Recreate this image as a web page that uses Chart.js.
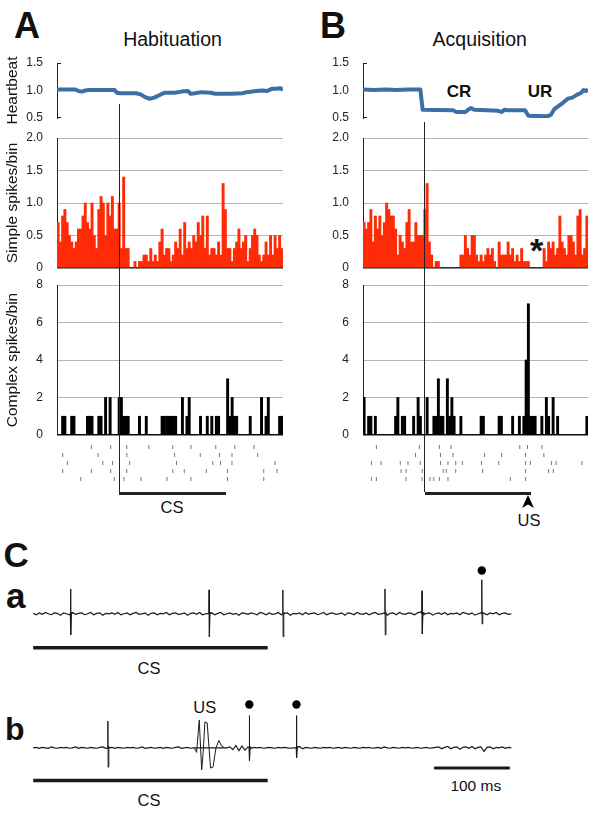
<!DOCTYPE html>
<html>
<head>
<meta charset="utf-8">
<script src="https://cdn.jsdelivr.net/npm/chart.js@4.4.0/dist/chart.umd.min.js"></script>
<style>
    html, body { margin: 0; padding: 0; background: #fff; }
    #fig { position: relative; width: 600px; height: 813px; overflow: hidden;
           font-family: "Liberation Sans", Arial, Helvetica, sans-serif; color: #111; }
    #fig canvas { position: absolute; }
    .lbl { position: absolute; white-space: nowrap; line-height: 1; }
    .ctr { transform: translateX(-50%); }
    .big { font-weight: bold; font-size: 36px; }
    .rule { position: absolute; background: #222; }
</style>
</head>
<body>
<div id="fig">
    <div class="lbl big" style="left:14px; top:8px;">A</div>
    <div class="lbl big" style="left:320px; top:8px;">B</div>
    <div class="lbl ctr" style="left:172.5px; top:30px; font-size:19.5px;">Habituation</div>
    <div class="lbl ctr" style="left:479.7px; top:30px; font-size:19.5px;">Acquisition</div>
    <div class="lbl ctr" style="left:459px; top:83px; font-size:17px; font-weight:bold;">CR</div>
    <div class="lbl ctr" style="left:540px; top:83px; font-size:17px; font-weight:bold;">UR</div>
    <div class="lbl ctr" style="left:536.7px; top:233px; font-size:34px; font-weight:bold;">*</div>
    <div class="lbl ctr" style="left:172px; top:498.5px; font-size:16.5px;">CS</div>
    <div class="lbl ctr" style="left:529px; top:512px; font-size:16.5px;">US</div>
    <div class="lbl" style="left:3.5px; top:537px; font-size:35px; font-weight:bold;">C</div>
    <div class="lbl" style="left:6px; top:577.5px; font-size:35px; font-weight:bold;">a</div>
    <div class="lbl" style="left:5px; top:713px; font-size:32px; font-weight:bold;">b</div>
    <div class="lbl ctr" style="left:149px; top:659.5px; font-size:16.5px;">CS</div>
    <div class="lbl ctr" style="left:149px; top:792px; font-size:16.5px;">CS</div>
    <div class="lbl ctr" style="left:204.7px; top:699.4px; font-size:16.5px;">US</div>
    <div class="lbl ctr" style="left:475.8px; top:778.4px; font-size:15.5px;">100 ms</div>
    <svg id="usArrow" width="14" height="14" style="position:absolute; top:495px;">
        <polygon points="7,0 13,13 7,9.5 1,13" fill="#000"></polygon>
    </svg>
</div>
<script>
    "use strict";

    // Bins of the peri-stimulus histograms
    var nBins = 100;
    var bins = Array.from({ length: nBins }, function (_, i) { return i; });

    // Simple spikes / bin
    var simpleA = [0.7, 0.4, 0.8, 0.9, 0.7, 0.5, 0.4, 0.3, 0.4, 0.6,
        0.6, 0.8, 1.0, 0.7, 0.6, 1.0, 0.5, 0.3, 0.9, 1.1,
        1.0, 0.5, 1.0, 0.8, 1.1, 0.6, 0.6, 1.0, 0.3, 1.4,
        0.3, 0.3, 0, 0, 0.1, 0, 0.1, 0.1, 0.2, 0.2,
        0.1, 0.3, 0.1, 0.2, 0.1, 0.4, 0.6, 0.2, 0.3, 0.3,
        0.1, 0.2, 0.4, 0.3, 0.6, 0.2, 0.7, 0.3, 0.4, 0.3,
        0.5, 0.4, 0.7, 0.5, 0.8, 0.3, 0.8, 0.2, 0.3, 0.3,
        0.2, 0.4, 0.2, 1.3, 0.9, 0.3, 0.3, 0.1, 0.3, 0.4,
        0.6, 0.3, 0.4, 0.5, 0.1, 0.3, 0.5, 0.6, 0.5, 0.2,
        0.1, 0.2, 0.4, 0.2, 0.5, 0.2, 0.5, 0.3, 0.5, 0.3];
    var simpleB = [0.7, 0.6, 0.7, 0.9, 0.4, 0.8, 0.6, 0.8, 0.5, 0.7,
        1.0, 0.9, 0.8, 0.8, 0.6, 0.2, 0.5, 0.4, 0.3, 0.7,
        0.9, 0.4, 0.4, 0.7, 0.5, 0.5, 0.5, 0.9, 1.3, 0.4,
        0.2, 0, 0.1, 0.1, 0, 0, 0, 0, 0, 0,
        0, 0, 0, 0.2, 0.2, 0.5, 0.3, 0.2, 0.5, 0.5,
        0.2, 0.1, 0.2, 0.1, 0.2, 0.3, 0.2, 0.3, 0.1, 0,
        0.4, 0.2, 0.2, 0.2, 0.4, 0.2, 0.3, 0.1, 0.2, 0.1,
        0.3, 0.1, 0.1, 0.1, 0, 0, 0, 0, 0, 0,
        0.3, 0.1, 0.4, 0.3, 0.4, 0.2, 0.3, 0.8, 0.4, 0.3,
        0.2, 0.5, 0.5, 0.4, 0.2, 0.8, 0.9, 0.2, 0.3, 0.8];

    // Complex spikes / bin
    var complexA = [0, 0, 1, 1, 0, 0, 1, 1, 0, 0,
        0, 0, 0, 1, 1, 1, 0, 0, 1, 1,
        0, 2, 0, 2, 0, 0, 0, 2, 2, 1,
        1, 1, 0, 0, 0, 0, 1, 0, 0, 1,
        0, 0, 0, 0, 0, 0, 1, 1, 1, 1,
        1, 1, 1, 0, 0, 2, 0, 1, 2, 0,
        0, 0, 0, 1, 0, 0, 1, 0, 1, 0,
        1, 1, 0, 0, 0, 3, 1, 2, 1, 1,
        0, 0, 0, 0, 0, 1, 0, 0, 0, 0,
        2, 0, 1, 2, 0, 0, 0, 0, 1, 1];
    var complexB = [2, 0, 1, 1, 0, 1, 0, 0, 0, 0,
        0, 0, 0, 0, 1, 2, 0, 1, 1, 0,
        0, 0, 1, 0, 2, 1, 0, 0, 2, 0,
        0, 1, 1, 3, 1, 1, 0, 3, 1, 2,
        1, 0, 0, 1, 0, 0, 0, 0, 0, 0,
        0, 0, 1, 1, 0, 0, 0, 0, 0, 0,
        1, 1, 0, 0, 0, 0, 1, 0, 0, 1,
        0, 1, 4, 7, 1, 1, 1, 0, 0, 1,
        0, 2, 1, 0, 2, 0, 1, 0, 0, 0,
        0, 0, 0, 0, 0, 0, 0, 0, 0, 1];

    // Heartbeat (relative), [bin position, value]
    var heartA = [[0, 1.02], [8, 1.02], [9.5, 0.99], [11, 0.98], [12.5, 1.0], [14, 1.01], [25.5, 1.01],
        [26.5, 0.96], [28, 0.95], [35, 0.95], [37, 0.93], [39, 0.88], [41, 0.85], [43, 0.87],
        [45, 0.91], [47, 0.95], [48, 0.96], [52, 0.96], [55, 0.98], [58, 0.99], [59, 0.94],
        [61, 0.95], [64, 0.97], [68, 0.96], [70, 0.94], [77, 0.94], [82, 0.95], [84, 0.97],
        [88, 0.99], [91, 1.0], [93, 0.99], [95, 1.03], [97, 1.03], [99, 1.04], [100, 1.01]];
    var heartB = [[0, 1.02], [5, 1.01], [10, 1.02], [15, 1.01], [20, 1.02], [25.5, 1.02], [26.5, 0.65],
        [40, 0.64], [41.5, 0.61], [45.5, 0.61], [47, 0.66], [48, 0.68], [49.5, 0.65], [55, 0.64],
        [60, 0.63], [61.5, 0.61], [63, 0.65], [64.5, 0.64], [72, 0.64], [73.5, 0.54], [82, 0.53],
        [83.5, 0.56], [85, 0.66], [87, 0.72], [89, 0.78], [91, 0.85], [93, 0.87], [95, 0.92],
        [97, 0.96], [98, 1.01], [99, 0.99], [100, 1.02]];

    // Raster of complex spikes, one list per trial, in bin positions
    var rasterA = [
        [13.6, 22.5, 30, 40.2, 51.3, 59.7, 71.2, 80, 88.9],
        [0.3, 16.7, 30, 52.1, 64, 72.9, 78.7, 90.6],
        [2.5, 18.9, 23.4, 31.3, 53, 69.8, 73.4, 78.7, 98.6],
        [0.3, 13.6, 22.5, 30, 51.3, 56.6, 66.8, 76.6, 93.4, 99.5],
        [8.7, 24.2, 28.7, 36.6, 48.6, 59.7, 76.6, 93.4]
    ];
    var rasterB = [
        [3.9, 23.9, 33.2, 38.6, 70.6, 74.2, 80.9],
        [22.1, 33.7, 39.5, 54.2, 62.2, 73.3, 81.8],
        [1.6, 6.1, 15, 18.6, 24.3, 33.7, 37.2, 40.8, 43.9, 52.8, 60.8, 73.3, 75.5, 85.3, 87.5, 99.5],
        [15.4, 17.7, 25.2, 35, 36.4, 40.8, 53.3, 73.3, 84, 86.2],
        [1.6, 3.9, 17.7, 25.2, 28.8, 30.6, 33.2, 37.2, 66.2, 73.3]
    ];

    var csOnset = 27.5, csEnd = 74.8, usTime = 73.4;

    var heartTicks = [0.5, 1.0, 1.5], heartTickLabels = ["0.5", "1.0", "1.5"];
    var simpleTicks = [0, 0.5, 1, 1.5, 2], simpleTickLabels = ["0", "0.5", "1.0", "1.5", "2.0"];
    var complexTicks = [0, 2, 4, 6, 8], complexTickLabels = ["0", "2", "4", "6", "8"];

    // Single-unit recordings (C): samples every 4 ms, amplitude in px-like units
    var traceStep = 4;
    var traceLen = 634;
    var noiseA = [0.5, -1, 1, -0.5, 1.5, 0, -1, 1, 0.5, -1.5,
        1, 0, -1, 1.5, -0.5, 0.5, 1, -1, 0, 1.5,
        -1, 0.5, 1, -1.5, 0.5, 0, 1, -0.5, 1.5, -1,
        0, 1, -1, 0.5, 1.5, -0.5, 0, 1, -1.5, 0.5,
        1, -1, 0.5, 0, 1.5, -1, 0.5, 1, -0.5, 0,
        1, -1.5, 0.5, 1, -0.5, 1.5, -1, 0, 0.5, 1,
        -1, 0.5, 1.5, -1, 0, 1, -0.5, 0.5, -1.5, 1,
        0.5, -0.5, 1, 0, -1, 1.5, 0.5, -1, 1, -0.5,
        0, 1.5, -1, 0.5, 1, -1.5, 0.5, 0, 1, -1,
        1.5, -0.5, 0.5, 1, -1, 0, 1.5, -1, 0.5, 1,
        -0.5, 0, 1, -1.5, 1, 0.5, -1, 1.5, 0, -0.5,
        1, -1, 0.5, 1.5, -0.5, 0, 1, -1.5, 0.5, 1,
        -1, 1.5, 0, -0.5, 1, 0.5, -1, 1, 2, -1,
        0.5, 1, -1.5, 0, 1, -0.5, 1.5, -1, 0.5, 0,
        1, -1, 1.5, 0.5, -0.5, 1, -1.5, 0, 1, 0.5,
        -1, 1, 0, 1.5, -1, 0.5, 1, -0.5, 0];
    var noiseB = [0, 0.5, -0.5, 0.5, 0, -0.5, 1, 0, -0.5, 0.5,
        0, 0.5, -0.5, 0, 1, -0.5, 0.5, 0, -0.5, 0.5,
        0, -0.5, 0.5, 1, -0.5, 0, 0.5, -0.5, 0.5, 0,
        -0.5, 0.5, 0, 0.5, -0.5, 0, 1, -0.5, 0, 0.5,
        -0.5, 0, 0.5, -0.5, 0.5, 0, -0.5, 0.5, 1, -0.5,
        0, 0.5, -0.5, 0, 0, 0, 0, 0, 0, 0,
        0, 0, 0, 0, 0, 1, -2, 2.5, -3, 2,
        -2.5, 1, -0.5, 0.5, 0, 0.5, -0.5, 0, 0.5, 0,
        -0.5, 0.5, 0, 0.5, 0, -0.5, 0, 0, 1.5, -1,
        0.5, 0, -0.5, 0.5, 0, -0.5, 0.5, 0, 0.5, -0.5,
        0, 0.5, -0.5, 0.5, 0, -0.5, 0.5, 0, -0.5, 0.5,
        0, 0.5, -0.5, 0, 0.5, -0.5, 1, 0, -0.5, 0.5,
        0, -0.5, 0.5, 0, 0.5, -0.5, 0, 0.5, -0.5, 0,
        0.5, -0.5, 0, 0.5, 1, -1, 0.5, 1.5, -1, 0.5,
        1, -1.5, 0.5, 1, -0.5, 1.5, -1, 0.5, 1, -4,
        0.5, 1, -1, 0.5, 0, 1, -0.5, 0.5, 0];
    // [time ms, peak up, peak down]
    var spikesA = [[49.4, 27, 23], [232.5, 26, 25], [330, 26, 25], [465, 27, 23], [514, 25, 22], [593, 37, 11]];
    var spikesB = [[98.7, 29, 21], [285.7, 35, 14], [348, 35, 11]];
    var usArtifact = [[213, 0], [216, -5], [219.5, 30], [222.7, -24], [224.7, -5], [227, 28], [230, 27],
        [234.4, -22], [237.7, -21], [241.6, 0], [245.5, 8], [249, 2], [253, 0]];
    var dotsA = [593];
    var dotsB = [285.7, 348];
    var csMs = 310;
    var scaleBarMs = [530, 630];

    // Chart defaults
    Chart.defaults.font.family = '"Liberation Sans", Arial, Helvetica, sans-serif';
    Chart.defaults.font.size = 12;
    Chart.defaults.color = "#222";
    Chart.defaults.animation = false;
    Chart.defaults.events = [];
    Chart.defaults.plugins.legend.display = false;
    Chart.defaults.plugins.tooltip.enabled = false;

    var fig = document.getElementById("fig");

    function makeCanvas(left, top, w, h) {
        var c = document.createElement("canvas");
        c.width = w;
        c.height = h;
        c.style.left = left + "px";
        c.style.top = top + "px";
        c.style.width = w + "px";
        c.style.height = h + "px";
        fig.appendChild(c);
        return c.getContext("2d");
    }

    function addRule(left, top, w, h) {
        var d = document.createElement("div");
        d.className = "rule";
        d.style.left = left + "px";
        d.style.top = top + "px";
        d.style.width = w + "px";
        d.style.height = h + "px";
        fig.appendChild(d);
    }

    // small bracket ends on the heartbeat axis
    var bracketEnds = {
        id: "bracketEnds",
        afterDraw: function (chart) {
            var a = chart.chartArea, c = chart.ctx;
            c.save();
            c.strokeStyle = "#222";
            c.lineWidth = 1;
            c.beginPath();
            c.moveTo(a.left, a.top + 0.5);
            c.lineTo(a.left + 4, a.top + 0.5);
            c.moveTo(a.left, a.bottom - 0.5);
            c.lineTo(a.left + 4, a.bottom - 0.5);
            c.stroke();
            c.restore();
        }
    };

    // tick marks are invisible but 14px long, so labels sit 14px off the axis
    function yAxis(min, max, vals, labels, title, withGrid) {
        return {
            min: min,
            max: max,
            afterFit: function (s) { s.width = 57; },
            afterBuildTicks: function (s) {
                s.ticks = vals.map(function (v) { return { value: v }; });
            },
            ticks: {
                padding: 0,
                color: "#222",
                callback: function (v, i) { return labels[i]; }
            },
            grid: {
                display: true,
                drawTicks: true,
                tickLength: 14,
                tickColor: "rgba(0,0,0,0)",
                color: function (ctx) {
                    if (!withGrid) return "rgba(0,0,0,0)";
                    return ctx.tick && ctx.tick.value === 0 ? "#111" : "#b4b4b4";
                },
                lineWidth: function (ctx) { return ctx.tick && ctx.tick.value === 0 ? 1.5 : 1; }
            },
            border: { display: true, color: "#222", width: 1 },
            title: {
                display: !!title,
                text: title || "",
                color: "#111",
                font: { size: 15.5 },
                padding: { top: 3, bottom: 0 }
            }
        };
    }

    var pad = { top: 8, bottom: 8, left: 0, right: 2 };

    function heartChart(left, width, data, title) {
        new Chart(makeCanvas(left, 55, width, 71), {
            type: "line",
            data: {
                datasets: [{
                    data: data.map(function (p) { return { x: p[0], y: p[1] }; }),
                    borderColor: "#3d6fa7",
                    borderWidth: 4,
                    borderJoinStyle: "round",
                    pointRadius: 0,
                    tension: 0
                }]
            },
            options: {
                responsive: false,
                layout: { padding: pad },
                scales: {
                    x: { type: "linear", min: 0, max: nBins, display: false },
                    y: yAxis(0.5, 1.5, heartTicks, heartTickLabels, title, false)
                }
            },
            plugins: [bracketEnds]
        });
    }

    function histChart(left, width, top, height, data, color, min, max, ticks, labels, title) {
        new Chart(makeCanvas(left, top, width, height), {
            type: "bar",
            data: {
                labels: bins,
                datasets: [{
                    data: data,
                    backgroundColor: color,
                    borderWidth: 0,
                    barPercentage: 1,
                    categoryPercentage: 1
                }]
            },
            options: {
                responsive: false,
                layout: { padding: pad },
                scales: {
                    x: { display: false, offset: true },
                    y: yAxis(min, max, ticks, labels, title, true)
                }
            }
        });
    }

    function rasterChart(left, width, rows) {
        new Chart(makeCanvas(left, 438, width, 50), {
            type: "scatter",
            data: {
                datasets: rows.map(function (row, r) {
                    return {
                        data: row.map(function (x) { return { x: x, y: r + 1 }; }),
                        pointStyle: "line",
                        rotation: 90,
                        radius: 2,
                        borderColor: "#777",
                        borderWidth: 1
                    };
                })
            },
            options: {
                responsive: false,
                layout: { padding: 0 },
                scales: {
                    x: { type: "linear", min: 0, max: nBins, display: false },
                    y: { type: "linear", min: 0.5, max: 5.5, reverse: true, display: false }
                }
            }
        });
    }

    // Panel A (left 0) and B (left 306); plot areas 57..283 and 363..588
    heartChart(0, 285, heartA, "Heartbeat");
    heartChart(306, 284, heartB, "");
    histChart(0, 285, 130, 146, simpleA, "#ff2a06", 0, 2, simpleTicks, simpleTickLabels, "Simple spikes/bin");
    histChart(306, 284, 130, 146, simpleB, "#ff2a06", 0, 2, simpleTicks, simpleTickLabels, "");
    histChart(0, 285, 277, 166, complexA, "#000", 0, 8, complexTicks, complexTickLabels, "Complex spikes/bin");
    histChart(306, 284, 277, 166, complexB, "#000", 0, 8, complexTicks, complexTickLabels, "");
    rasterChart(57, 226, rasterA);
    rasterChart(363, 225, rasterB);

    // CS onset lines, CS bars and US arrow
    var plotA = { left: 57, width: 226 }, plotB = { left: 363, width: 225 };
    function xAt(p, v) { return p.left + v / nBins * p.width; }
    addRule(xAt(plotA, csOnset) - 0.5, 104, 1, 388);
    addRule(xAt(plotB, csOnset) - 0.5, 122, 1, 370);
    addRule(xAt(plotA, csOnset), 491.5, xAt(plotA, csEnd) - xAt(plotA, csOnset), 3);
    addRule(xAt(plotB, csOnset), 491.5, xAt(plotB, csEnd) - xAt(plotB, csOnset), 3);
    document.getElementById("usArrow").style.left = (xAt(plotB, usTime) - 7) + "px";

    // Panel C traces
    function spikePoints(s) {
        var t = s[0];
        return [
            { x: t - 0.4, y: 0 }, { x: t, y: s[1] }, { x: t + 0.4, y: -s[2] },
            { x: t + 1.3, y: 1.5 }, { x: t + 2.5, y: 0 }
        ];
    }

    function lineSet(points, width) {
        return {
            type: "line",
            data: points,
            borderColor: "#1a1a1a",
            borderWidth: width,
            pointRadius: 0,
            tension: 0
        };
    }

    function traceChart(top, noise, spikes, artifact, dots, csY, scaleBar) {
        var sets = [lineSet(noise.map(function (v, i) { return { x: i * traceStep, y: v }; }), 1.2)];
        spikes.forEach(function (s) { sets.push(lineSet(spikePoints(s), 1)); });
        if (artifact) {
            sets.push(lineSet(artifact.map(function (p) { return { x: p[0], y: p[1] }; }), 1));
        }
        sets.push(lineSet([{ x: 0, y: csY }, { x: csMs, y: csY }], 3.5));
        if (scaleBar) {
            sets.push(lineSet([{ x: scaleBar[0], y: -22 }, { x: scaleBar[1], y: -22 }], 3));
        }
        sets.push({
            type: "scatter",
            data: dots.map(function (t) { return { x: t, y: 47 }; }),
            pointRadius: 4.2,
            backgroundColor: "#000",
            borderWidth: 0
        });
        new Chart(makeCanvas(29, top, 488, 105), {
            type: "line",
            data: { datasets: sets },
            options: {
                responsive: false,
                layout: { padding: 0 },
                clip: false,
                scales: {
                    x: { type: "linear", min: 0, max: traceLen, display: false },
                    y: { type: "linear", min: -50, max: 55, display: false }
                }
            }
        });
    }

    traceChart(559, noiseA, spikesA, null, dotsA, -37, null);
    traceChart(693, noiseB, spikesB, usArtifact, dotsB, -35.5, scaleBarMs);
</script>
</body>
</html>
